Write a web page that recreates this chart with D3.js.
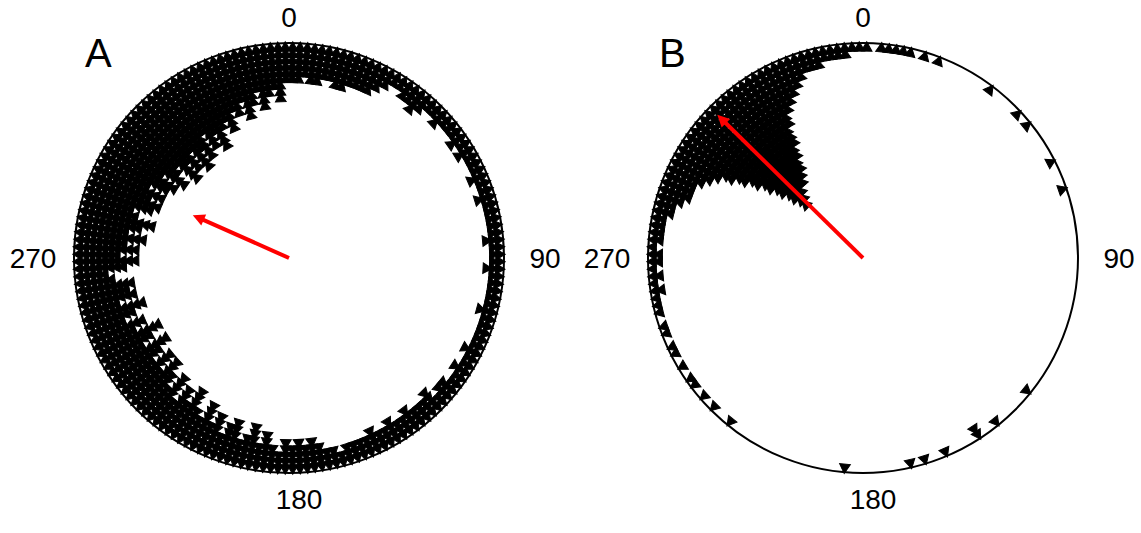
<!DOCTYPE html>
<html>
<head>
<meta charset="utf-8">
<script src="https://cdn.jsdelivr.net/npm/d3@7"></script>
<style>
  body { margin: 0; background: #fff; }
  text { font-family: "Liberation Sans", Arial, sans-serif; fill: #000; }
</style>
</head>
<body>
<div id="chart"></div>
<script>
// Circular data: counts of observations per 2-degree bin (bin 0 = 0-2 deg, clockwise from north)
const binWidth = 2;

const countsA = [
    6, 6, 5, 6, 6, 5, 5, 6, 6, 5,      // 0-20
    5, 5, 5, 4, 3, 2, 2, 3, 3, 4,      // 20-40
    3, 2, 2, 3, 2, 2, 2, 3, 2, 3,      // 40-60
    2, 2, 2, 3, 2, 2, 3, 2, 2, 2,      // 60-80
    2, 2, 3, 2, 2, 2, 3, 2, 2, 2,      // 80-100
    2, 2, 3, 2, 2, 2, 2, 2, 3, 2,      // 100-120
    2, 3, 2, 2, 3, 3, 2, 4, 3, 3,      // 120-140
    3, 4, 3, 3, 4, 3, 3, 4, 3, 3,      // 140-160
    3, 3, 2, 3, 3, 4, 5, 4, 5, 4,      // 160-180
    5, 3, 4, 6, 4, 7, 5, 4, 7, 6,      // 180-200
    4, 7, 5, 8, 5, 6, 9, 6, 8, 5,      // 200-220
    9, 6, 8, 10, 7, 10, 7, 9, 11, 7,   // 220-240
    9, 11, 7, 9, 6, 8, 10, 6, 9, 8,    // 240-260
    9, 6, 5, 8, 10, 7, 10, 8, 11, 8,   // 260-280
    10, 12, 9, 8, 11, 12, 10, 12, 9, 12,   // 280-300
    13, 10, 14, 12, 11, 15, 12, 14, 11, 15, // 300-320
    12, 14, 10, 13, 11, 14, 11, 10, 12, 9,  // 320-340
    10, 8, 11, 9, 7, 10, 8, 7, 9, 6    // 340-360
];

const countsB = [
    1, 0, 1, 1, 1, 1, 1, 0, 1, 0,      // 0-20
    1, 0, 0, 0, 0, 0, 0, 0, 1, 0,      // 20-40
    0, 0, 0, 1, 0, 1, 0, 0, 0, 0,      // 40-60
    0, 1, 0, 0, 0, 1, 0, 0, 0, 0,      // 60-80
    0, 0, 0, 0, 0, 0, 0, 0, 0, 0,      // 80-100
    0, 0, 0, 0, 0, 0, 0, 0, 0, 0,      // 100-120
    0, 0, 0, 0, 1, 0, 0, 0, 0, 0,      // 120-140
    1, 0, 0, 2, 0, 0, 0, 0, 1, 0,      // 140-160
    0, 1, 0, 1, 0, 0, 0, 0, 0, 0,      // 160-180
    0, 0, 1, 0, 0, 0, 0, 0, 0, 0,      // 180-200
    0, 0, 0, 0, 0, 0, 0, 0, 0, 1,      // 200-220
    0, 0, 1, 0, 1, 0, 1, 1, 0, 1,      // 220-240
    0, 1, 1, 0, 1, 1, 0, 1, 1, 1,      // 240-260
    2, 1, 2, 1, 2, 2, 1, 2, 2, 2,      // 260-280
    2, 3, 3, 4, 5, 5, 5, 6, 7, 8,      // 280-300
    10, 12, 14, 16, 18, 20, 22, 21, 20, 19, // 300-320
    19, 18, 17, 15, 13, 10, 8, 7, 6, 5, // 320-340
    4, 3, 3, 3, 2, 2, 2, 2, 1, 1       // 340-360
];

// mean direction (deg) and mean resultant length (0-1)
const panelNames = ["A", "B"];
const meanAngles = [294, 314.5];
const meanLengths = [0.49, 0.95];

const axisLabels = [
    { angle: 0, text: "0" },
    { angle: 90, text: "90" },
    { angle: 180, text: "180" },
    { angle: 270, text: "270" }
];

const width = 1141;
const height = 533;
const radius = 215;
const centers = [{ x: 289, y: 258 }, { x: 863, y: 258 }];
const step = 6.3;   // radial spacing of stacked markers

function drawPanel(svg, counts, i) {
    const c = centers[i];
    const g = svg.append("g")
        .attr("transform", `translate(${c.x},${c.y})`);

    const rScale = d3.scaleLinear().domain([0, 1]).range([0, radius]);
    const toRad = d3.scaleLinear().domain([0, 360]).range([0, 2 * Math.PI]);

    g.append("circle")
        .attr("r", radius)
        .attr("fill", "none")
        .attr("stroke", "#000")
        .attr("stroke-width", 2);

    // one marker per observation, stacked inwards from the circle
    const points = [];
    counts.forEach((n, b) => {
        for (let k = 0; k < n; k++) {
            points.push({ angle: (b + 0.5) * binWidth, r: radius - 5 - k * step });
        }
    });

    g.append("g").selectAll("path")
        .data(points)
        .enter()
        .append("path")
        .attr("d", d3.symbol(d3.symbolTriangle, 50))
        .attr("transform", d => `rotate(${d.angle}) translate(0,${-d.r})`)
        .attr("fill", "#000")
        .attr("stroke", "#000")
        .attr("stroke-width", 1);

    // axis labels
    g.selectAll("text.axis")
        .data(axisLabels)
        .enter()
        .append("text")
        .attr("class", "axis")
        .attr("x", d => 256 * Math.sin(toRad(d.angle)) + (d.angle === 180 ? 10 : 0))
        .attr("y", d => -241 * Math.cos(toRad(d.angle)))
        .attr("dy", "0.35em")
        .attr("text-anchor", "middle")
        .attr("font-size", "28px")
        .text(d => d.text);

    // mean vector arrow
    const a = toRad(meanAngles[i]);
    const len = rScale(meanLengths[i]);
    const tx = len * Math.sin(a), ty = -len * Math.cos(a);
    g.append("line")
        .attr("x1", 0).attr("y1", 0)
        .attr("x2", tx - 6 * Math.sin(a)).attr("y2", ty + 6 * Math.cos(a))
        .attr("stroke", "#ff0000")
        .attr("stroke-width", 4);
    g.append("path")
        .attr("d", "M0,0 L-6,12 L6,12 Z")
        .attr("transform", `translate(${tx},${ty}) rotate(${meanAngles[i]})`)
        .attr("fill", "#ff0000");

    // panel letter
    svg.append("text")
        .attr("x", c.x - 204)
        .attr("y", c.y - 191)
        .attr("font-size", "40px")
        .text(panelNames[i]);
}

function createChart() {
    const svg = d3.select("#chart")
        .append("svg")
        .attr("width", width)
        .attr("height", height);

    drawPanel(svg, countsA, 0);
    drawPanel(svg, countsB, 1);
}

document.addEventListener('DOMContentLoaded', function() {
    createChart();
});
</script>
</body>
</html>
